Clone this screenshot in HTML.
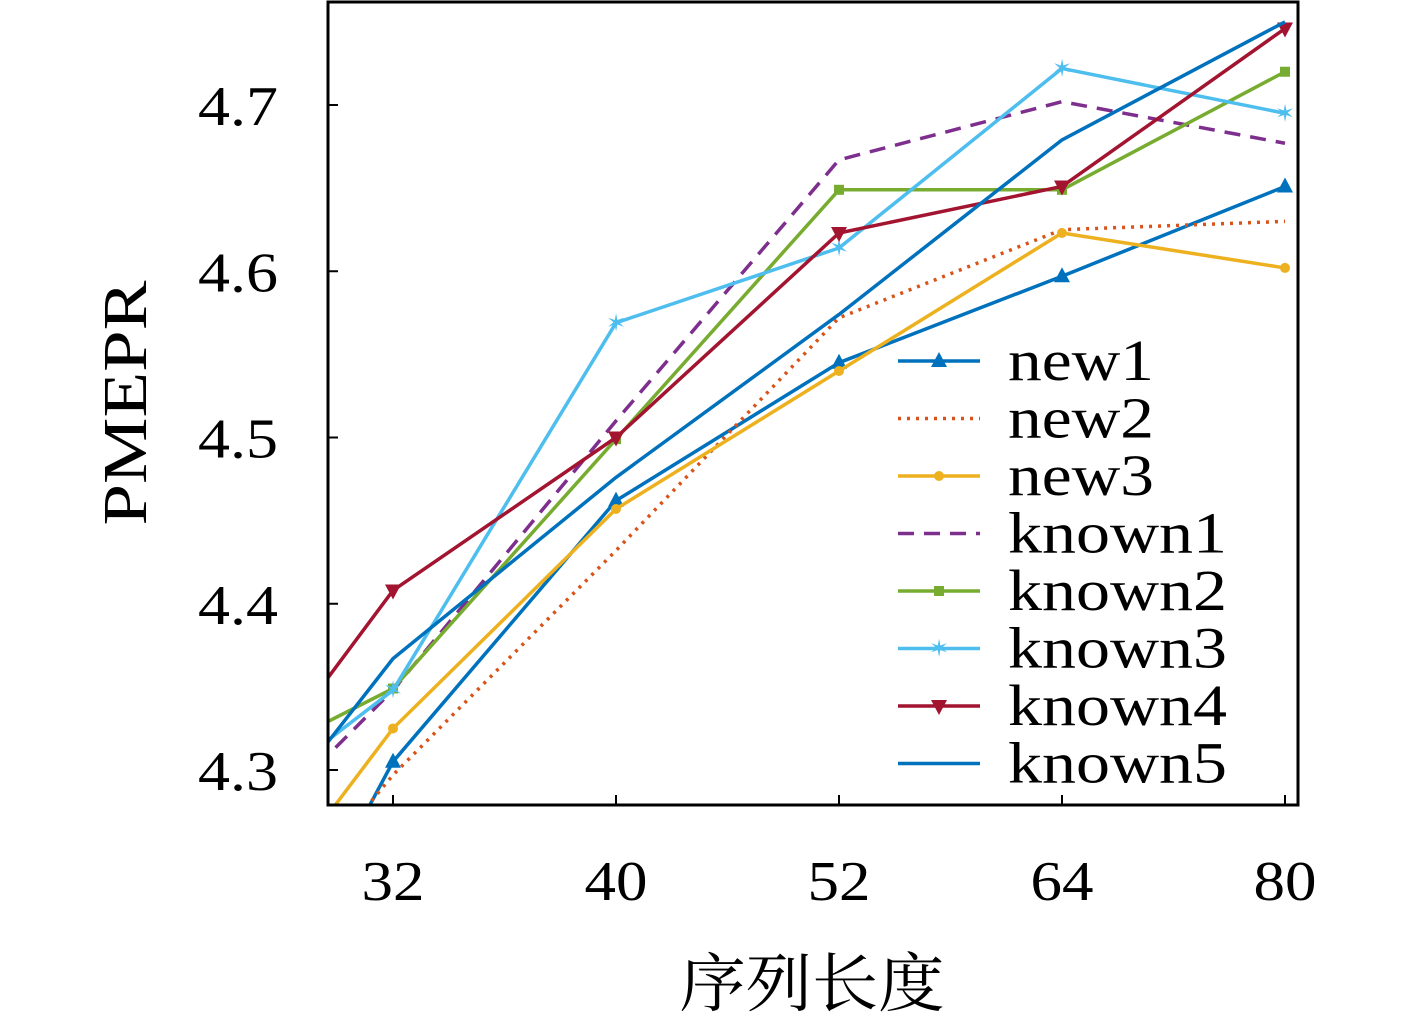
<!DOCTYPE html>
<html><head><meta charset="utf-8"><style>
html,body{margin:0;padding:0;background:#fff;width:1417px;height:1017px;overflow:hidden;}
svg{display:block;}
svg text{font-family:"Liberation Serif","Noto Serif CJK SC",serif;}
</style></head><body>
<svg id="chart" width="1417" height="1017" xmlns="http://www.w3.org/2000/svg">
<defs><clipPath id="plotclip"><rect x="328" y="2" width="970" height="803"/></clipPath></defs>
<g id="plot" clip-path="url(#plotclip)"></g>
<rect x="328" y="2" width="970" height="803" fill="none" stroke="#000" stroke-width="3"/>
<g id="axes"></g>
<text x="146" y="403" font-size="62" text-anchor="middle" textLength="245" lengthAdjust="spacingAndGlyphs" transform="rotate(-90 146 403)">PMEPR</text>
<text x="812" y="1006" font-size="64" text-anchor="middle" textLength="265" lengthAdjust="spacingAndGlyphs">序列长度</text>
<g id="legend"></g>
</svg>
<script>
// index -1 is the clipped point left of "32"
const categories = ["32", "40", "52", "64", "80"];
const yTicks = [4.3, 4.4, 4.5, 4.6, 4.7];
const seriesNames = ["new1","new2","new3","known1","known2","known3","known4","known5"];
const new1 = [4.054, 4.305, 4.462, 4.545, 4.597, 4.651];
const new2 = [4.136, 4.297, 4.432, 4.572, 4.625, 4.630];
const new3 = [4.147, 4.325, 4.457, 4.540, 4.623, 4.602];
const known1 = [4.214, 4.348, 4.510, 4.667, 4.702, 4.677];
const known2 = [4.281, 4.349, 4.499, 4.649, 4.649, 4.720];
const known3 = [4.245, 4.348, 4.569, 4.614, 4.722, 4.695];
const known4 = [4.228, 4.408, 4.500, 4.623, 4.651, 4.746];
const known5 = [4.195, 4.367, 4.476, 4.574, 4.679, 4.750];

const NS = "http://www.w3.org/2000/svg";
function xPos(i){ return 393 + i*223; }
function yPos(v){ return 770 - (v-4.3)*1662.5; }
function mk(tag, attrs, parent){ const e=document.createElementNS(NS,tag); for(const k in attrs) e.setAttribute(k,attrs[k]); parent.appendChild(e); return e; }

const styles = [
 {c:"#0072BD", dash:"", m:"tri"},
 {c:"#D95319", dash:"3,6", m:""},
 {c:"#EDB120", dash:"", m:"circ"},
 {c:"#7E2F8E", dash:"16,10", m:""},
 {c:"#77AC30", dash:"", m:"sq"},
 {c:"#4DBEEE", dash:"", m:"star"},
 {c:"#A2142F", dash:"", m:"dtri"},
 {c:"#0072BD", dash:"", m:""}
];
const allSeries = [new1,new2,new3,known1,known2,known3,known4,known5];

function marker(type, x, y, color, parent){
  let e=null;
  if(type==="tri") e=mk("polygon",{points:`${x},${y-9} ${x-8},${y+6} ${x+8},${y+6}`,fill:color},parent);
  else if(type==="dtri") e=mk("polygon",{points:`${x},${y+9} ${x-8},${y-6} ${x+8},${y-6}`,fill:color},parent);
  else if(type==="circ") e=mk("circle",{cx:x,cy:y,r:5,fill:color},parent);
  else if(type==="sq") e=mk("rect",{x:x-5,y:y-5,width:10,height:10,fill:color},parent);
  else if(type==="star") { e=mk("text",{x:x,y:y+8,"font-size":24,"text-anchor":"middle",fill:color},parent); e.textContent="✶"; }
  if(e){
    
    
  }
}

const plot=document.getElementById("plot");
allSeries.forEach((data,s)=>{
  const st=styles[s];
  const pts=data.map((v,k)=>`${xPos(k-1)},${yPos(v)}`).join(" ");
  const line=mk("polyline",{points:pts,fill:"none",stroke:st.c,"stroke-width":3.5,"stroke-dasharray":st.dash,"stroke-linejoin":"round"},plot);
  
  
  data.forEach((v,k)=>{ if(k>0) marker(st.m,xPos(k-1),yPos(v),st.c,plot); });
});

const axes=document.getElementById("axes");
categories.forEach((c,i)=>{
  const t=mk("line",{x1:xPos(i),x2:xPos(i),y1:805,y2:795,stroke:"#000","stroke-width":2},axes);
  
  
  const l=mk("text",{x:xPos(i),y:900,"font-size":56,"text-anchor":"middle",textLength:63,lengthAdjust:"spacingAndGlyphs"},axes);
  l.textContent=c;
  
  
});
yTicks.forEach(v=>{
  const t=mk("line",{x1:328,x2:338,y1:yPos(v),y2:yPos(v),stroke:"#000","stroke-width":2},axes);
  
  
  const l=mk("text",{x:278,y:yPos(v)+20,"font-size":56,"text-anchor":"end",textLength:80,lengthAdjust:"spacingAndGlyphs"},axes);
  l.textContent=v.toFixed(1);
  
  
});

const legend=document.getElementById("legend");
seriesNames.forEach((n,s)=>{
  const y=361+s*57.5, st=styles[s];
  const g=mk("g",{},legend);
  
  
  mk("line",{x1:898,x2:980,y1:y,y2:y,stroke:st.c,"stroke-width":3.5,"stroke-dasharray":st.dash},g);
  marker(st.m,939,y,st.c,g);
  const t=mk("text",{x:1008,y:y+19,"font-size":58,textLength:n.length*36.5,lengthAdjust:"spacingAndGlyphs"},g);
  t.textContent=n;
});
</script>
</body></html>
